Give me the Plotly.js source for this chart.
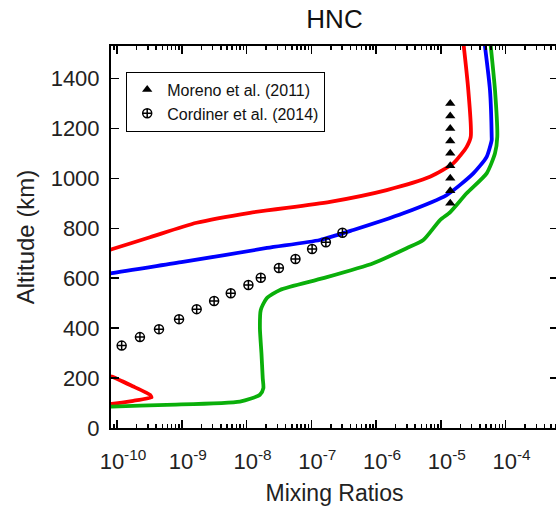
<!DOCTYPE html>
<html>
<head>
<meta charset="utf-8">
<script src="https://cdn.plot.ly/plotly-3.0.1.min.js"></script>
<style>
html, body { margin: 0; padding: 0; overflow: hidden; background: #fff; }
#chart { width: 558px; height: 506px; }
</style>
</head>
<body>
<div id="chart"></div>
<script>
// ---- data ----
const redUpperX = [2.24e-5, 2.66e-5, 2.90e-5, 2.51e-5, 2.05e-5, 1.56e-5, 6.81e-6, 1.46e-6, 1.95e-7, 1.13e-8, 1.70e-9, 3.23e-10, 8.28e-11, 4.0e-11];
const redUpperY = [1540, 1353, 1166, 1126, 1095, 1060, 1006, 953, 906, 862, 822, 764, 716, 690];

const redLowerX = [4.0e-11, 8.28e-11, 1.79e-10, 3.24e-10, 3.41e-10, 1.79e-10, 8.28e-11, 4.0e-11];
const redLowerY = [215, 206, 166, 133, 122, 109, 97, 90];

const blueX = [4.75e-5, 5.75e-5, 6.11e-5, 6.11e-5, 5.11e-5, 3.18e-5, 1.23e-5, 2.64e-6, 4.46e-7, 1.36e-7, 2.07e-8, 1.04e-9, 8.28e-11, 3.5e-11];
const blueY = [1540, 1353, 1166, 1153, 1086, 1020, 933, 860, 793, 753, 721, 665, 620, 600];

const greenX = [5.85e-5, 6.87e-5, 7.45e-5, 6.87e-5, 5.11e-5, 2.51e-5, 1.40e-5, 9.73e-6, 5.37e-6, 2.97e-6, 9.07e-7, 1.53e-7, 3.29e-8, 2.05e-8, 1.66e-8, 1.61e-8, 1.70e-8, 1.78e-8, 1.82e-8, 1.61e-8, 7.92e-9, 5.85e-10, 8.28e-11, 3.0e-11];
const greenY = [1540, 1353, 1166, 1100, 1020, 940, 865, 833, 753, 720, 660, 600, 553, 520, 473, 400, 300, 200, 160, 133, 106, 93, 86, 83];

const morenoX = [1.4e-5, 1.4e-5, 1.4e-5, 1.4e-5, 1.4e-5, 1.4e-5, 1.4e-5, 1.4e-5, 1.4e-5];
const morenoY = [900, 950, 1000, 1050, 1100, 1150, 1200, 1250, 1300];

const cordinerX = [1.18e-10, 2.26e-10, 4.45e-10, 9.08e-10, 1.70e-9, 3.16e-9, 5.71e-9, 1.07e-8, 1.66e-8, 3.16e-8, 5.70e-8, 1.03e-7, 1.68e-7, 3.03e-7];
const cordinerY = [330, 364, 396, 436, 476, 509, 540, 573, 602, 641, 677, 717, 744, 782];

const xTickVals = [1e-10, 1e-9, 1e-8, 1e-7, 1e-6, 1e-5, 1e-4, 1e-3];
const xTickText = ['10<sup>-10</sup>', '10<sup>-9</sup>', '10<sup>-8</sup>', '10<sup>-7</sup>', '10<sup>-6</sup>', '10<sup>-5</sup>', '10<sup>-4</sup>', '10<sup>-3</sup>'];
const yTickVals = [0, 200, 400, 600, 800, 1000, 1200, 1400];

const legendNames = ['Moreno et al. (2011)', 'Cordiner et al. (2014)'];

// minor tick positions (2..9 of each decade)
const minorVals = [];
for (let e = -11; e <= -3; e++) for (let d = 2; d <= 9; d++) minorVals.push(d * Math.pow(10, e));

const FONT = 'Liberation Sans, Arial, Helvetica, sans-serif';
const lw = 3.8;

const traces = [
  {x: redUpperX, y: redUpperY, mode: 'lines', line: {color: '#ff0000', width: lw, shape: 'spline', smoothing: 0.7}, showlegend: false, hoverinfo: 'skip'},
  {x: redLowerX, y: redLowerY, mode: 'lines', line: {color: '#ff0000', width: lw, shape: 'spline', smoothing: 0.4}, showlegend: false, hoverinfo: 'skip'},
  {x: blueX, y: blueY, mode: 'lines', line: {color: '#0000ff', width: lw, shape: 'spline', smoothing: 0.6}, showlegend: false, hoverinfo: 'skip'},
  {x: greenX, y: greenY, mode: 'lines', line: {color: '#0aaf0a', width: lw, shape: 'spline', smoothing: 0.6}, showlegend: false, hoverinfo: 'skip'},
  {x: morenoX, y: morenoY, mode: 'markers', name: legendNames[0], marker: {symbol: 'triangle-up', size: 9, color: '#000'}},
  {x: cordinerX, y: cordinerY, mode: 'markers', name: legendNames[1], marker: {symbol: 'circle-cross-open', size: 9, color: '#000', line: {width: 1.5, color: '#000'}}}
];

const layout = {
  width: 558, height: 506,
  margin: {l: 111, r: 0, t: 46, b: 78},
  paper_bgcolor: '#fff', plot_bgcolor: '#fff',
  font: {family: FONT, color: '#222'},
  title: {text: 'HNC', font: {family: FONT, size: 26, color: '#111'}, x: 0.5, xref: 'paper', xanchor: 'center', y: 0.962, yref: 'container', yanchor: 'middle'},
  xaxis: {
    type: 'log', range: [-10.0927, -3.190],
    tickmode: 'array', tickvals: xTickVals, ticktext: xTickText,
    ticks: 'inside', ticklen: 8, tickwidth: 1.5, tickcolor: '#000',
    minor: {tickmode: 'array', tickvals: minorVals, ticks: 'inside', ticklen: 4, tickwidth: 1.5, tickcolor: '#000', showgrid: false},
    showline: true, linewidth: 2, linecolor: '#000', mirror: 'ticks',
    showgrid: false, zeroline: false,
    tickfont: {family: FONT, size: 22, color: '#222'},
    ticklabelstandoff: 13, ticklabelshift: 6,
    title: {text: 'Mixing Ratios', font: {family: FONT, size: 23, color: '#222'}, standoff: 12}
  },
  yaxis: {
    range: [0, 1530],
    tickmode: 'array', tickvals: yTickVals,
    ticks: 'inside', ticklen: 8, tickwidth: 1.5, tickcolor: '#000',
    showline: true, linewidth: 2, linecolor: '#000', mirror: 'ticks',
    showgrid: false, zeroline: false,
    tickfont: {family: FONT, size: 22, color: '#222'},
    ticklabelstandoff: 5,
    title: {text: 'Altitude (km)', font: {family: FONT, size: 24, color: '#222'}, standoff: 9}
  },
  showlegend: true,
  legend: {
    x: 0.034, y: 0.933, xanchor: 'left', yanchor: 'top',
    bgcolor: '#fff', bordercolor: '#000', borderwidth: 1,
    font: {family: FONT, size: 16, color: '#111'},
    itemwidth: 30, tracegroupgap: 0
  }
};

Plotly.newPlot('chart', traces, layout, {staticPlot: true, displayModeBar: false});
</script>
</body>
</html>
